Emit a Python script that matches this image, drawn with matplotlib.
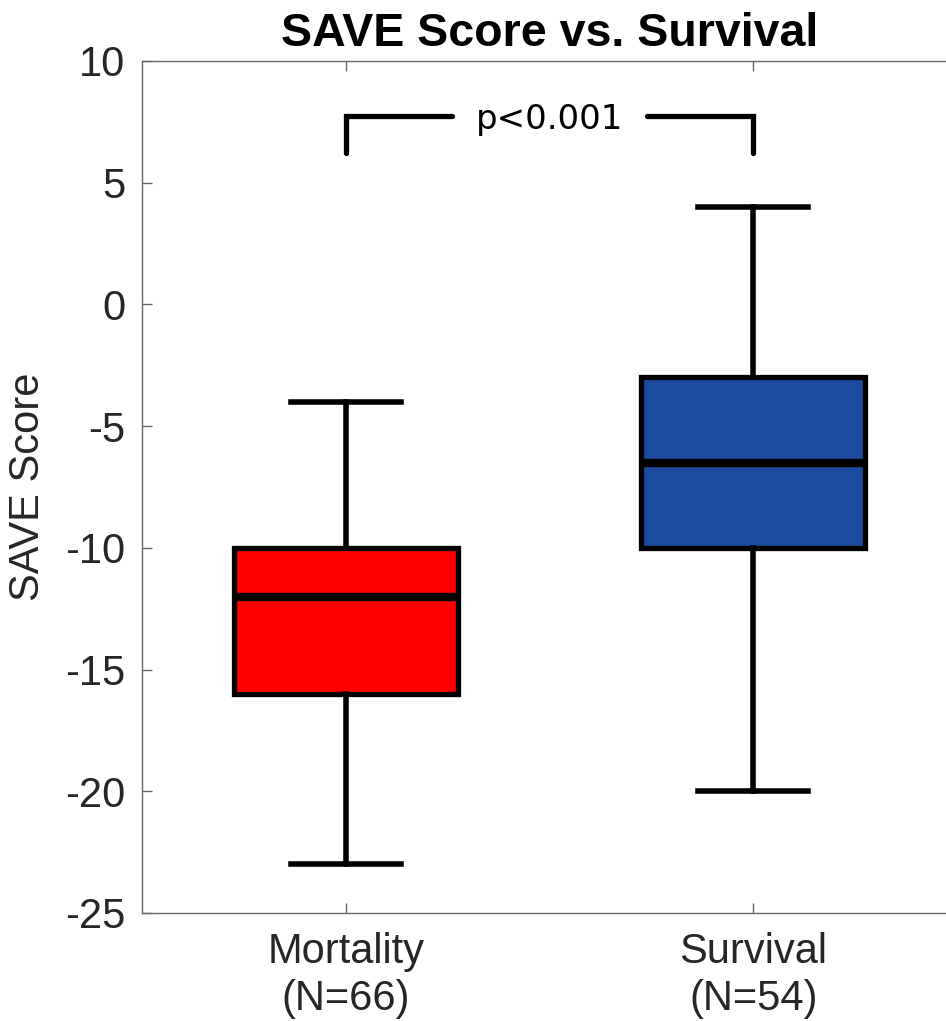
import matplotlib
matplotlib.use("Agg")
import matplotlib.pyplot as plt

plt.rcParams['font.family'] = ['Liberation Sans', 'DejaVu Sans']
plt.rcParams['axes.unicode_minus'] = False

# Box summary per group
groups = ["Mortality\n(N=66)", "Survival\n(N=54)"]
whisker_low = [-23, -20]
q1 = [-16, -10]
medians = [-12, -6.5]
q3 = [-10, -3]
whisker_high = [-4, 4]
colors = ['#FF0000', '#1C4AA0']
p_text = "p<0.001"

stats = []
for i in range(len(groups)):
    stats.append(dict(label=groups[i], whislo=whisker_low[i], q1=q1[i],
                      med=medians[i], q3=q3[i], whishi=whisker_high[i], fliers=[]))

fig = plt.figure(figsize=(9.46, 10.21), dpi=100)
ax = fig.add_axes([0.150, 0.1058, 0.8615, 0.8345])

bp = ax.bxp(stats, positions=[1, 2], widths=0.55, capwidths=0.27,
            patch_artist=True, showfliers=False,
            boxprops=dict(linewidth=3.8, edgecolor='black'),
            medianprops=dict(linewidth=6.0, color='black', solid_capstyle='butt'),
            whiskerprops=dict(linewidth=4.0, color='black'),
            capprops=dict(linewidth=4.0, color='black'))
for patch, c in zip(bp['boxes'], colors):
    patch.set_facecolor(c)

# significance bracket
lw = 3.8
ax.plot([1, 1, 1.26], [6.2, 7.72, 7.72], color='black', lw=lw, solid_capstyle='round', solid_joinstyle='miter')
ax.plot([1.74, 2, 2], [7.72, 7.72, 6.2], color='black', lw=lw, solid_capstyle='round', solid_joinstyle='miter')
ax.text(1.5, 7.6, p_text, ha='center', va='center', fontsize=24.5,
        family='DejaVu Sans', color='black')

ax.set_xlim(0.5, 2.5)
ax.set_ylim(-25, 10)
ax.set_yticks(range(-25, 11, 5))
ax.set_xticks([1, 2])
ax.set_xticklabels(groups)

ax.tick_params(axis='both', direction='in', length=7, width=1, colors='#666666',
               labelcolor='#262626', labelsize=30, top=True, right=True)
ax.tick_params(axis='y', pad=12)
ax.tick_params(axis='x', pad=14)
for s in ax.spines.values():
    s.set_color('#666666')
    s.set_linewidth(1)

ax.set_ylabel("SAVE Score", fontsize=30, color='#262626')
ax.yaxis.set_label_coords(-0.115, 0.5)
ax.set_title("SAVE Score vs. Survival", fontsize=33.5, fontweight='bold', pad=10.5)

fig.savefig("out.png", dpi=100)
